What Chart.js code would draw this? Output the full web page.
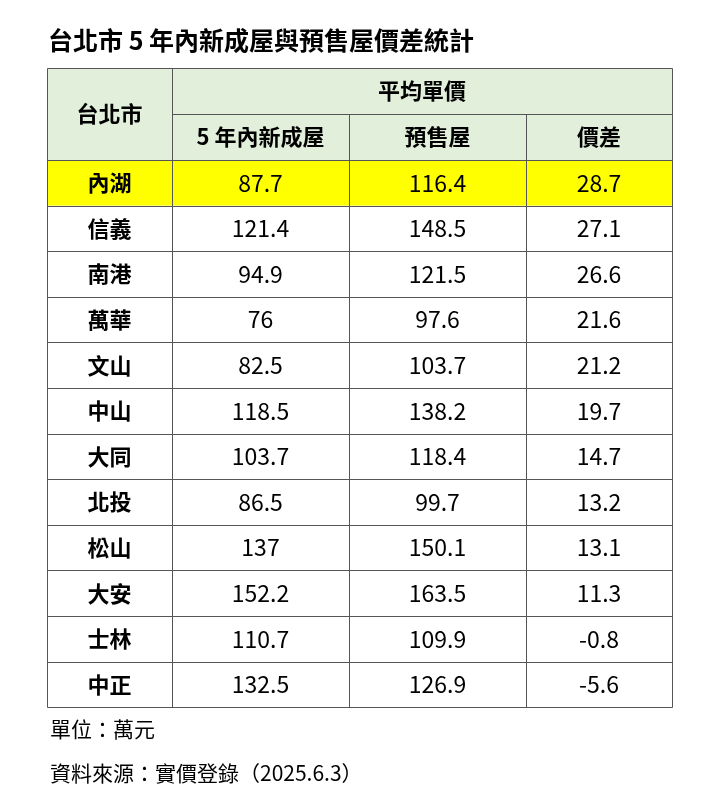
<!DOCTYPE html>
<html>
<head>
<meta charset="utf-8">
<script src="https://cdn.jsdelivr.net/npm/chart.js@4.4.1/dist/chart.umd.min.js"></script>
<style>
  body { margin: 0; background: #fff; }
</style>
</head>
<body>
<canvas id="tabela" width="722" height="800"></canvas>
<script>
//Dados
const titulo = '台北市 5 年內新成屋與預售屋價差統計'
const cabecalhoGrupo = '平均單價'
const cabecalhoCidade = '台北市'
const colunas = ['5 年內新成屋', '預售屋', '價差']
const distritos = ['內湖', '信義', '南港', '萬華', '文山', '中山', '大同', '北投', '松山', '大安', '士林', '中正']
const novos = ['87.7', '121.4', '94.9', '76', '82.5', '118.5', '103.7', '86.5', '137', '152.2', '110.7', '132.5']
const preVenda = ['116.4', '148.5', '121.5', '97.6', '103.7', '138.2', '118.4', '99.7', '150.1', '163.5', '109.9', '126.9']
const diferenca = ['28.7', '27.1', '26.6', '21.6', '21.2', '19.7', '14.7', '13.2', '13.1', '11.3', '-0.8', '-5.6']
const notas = ['單位：萬元', '資料來源：實價登錄（2025.6.3）']

//Layout (pixels na escala)
const bordasX = [47, 172, 349, 526, 672]
const topo = 68
const linhaCab = 46
const linhaDado = 45.6
const fonte = '"Noto Sans CJK TC", "Noto Sans", sans-serif'

const tabelaPlugin = {
    id: 'tabela',
    afterDraw(chart) {
        const ctx = chart.ctx
        const sx = chart.scales.x
        const sy = chart.scales.y
        const X = v => sx.getPixelForValue(v)
        const Y = v => sy.getPixelForValue(v)
        const inicioDados = topo + 2 * linhaCab
        const fim = inicioDados + distritos.length * linhaDado

        ctx.save()
        //Titulo
        ctx.fillStyle = '#000'
        ctx.font = 'bold 25px ' + fonte
        ctx.textBaseline = 'middle'
        ctx.textAlign = 'left'
        ctx.fillText(titulo, X(48), Y(40))

        //Fundo do cabecalho
        ctx.fillStyle = '#e2efda'
        ctx.fillRect(X(bordasX[0]), Y(topo), X(bordasX[4]) - X(bordasX[0]), Y(inicioDados) - Y(topo))
        //Linha destacada
        ctx.fillStyle = '#ffff00'
        ctx.fillRect(X(bordasX[0]), Y(inicioDados), X(bordasX[4]) - X(bordasX[0]), Y(inicioDados + linhaDado) - Y(inicioDados))

        //Linhas
        ctx.strokeStyle = '#555'
        ctx.lineWidth = 1
        const linha = (x1, y1, x2, y2) => {
            ctx.beginPath()
            ctx.moveTo(Math.round(X(x1)) + 0.5, Math.round(Y(y1)) + 0.5)
            ctx.lineTo(Math.round(X(x2)) + 0.5, Math.round(Y(y2)) + 0.5)
            ctx.stroke()
        }
        linha(bordasX[0], topo, bordasX[4], topo)
        linha(bordasX[1], topo + linhaCab, bordasX[4], topo + linhaCab)
        for (let i = 0; i <= distritos.length; i++) {
            const yy = inicioDados + i * linhaDado
            linha(bordasX[0], yy, bordasX[4], yy)
        }
        linha(bordasX[0], topo, bordasX[0], fim)
        linha(bordasX[1], topo, bordasX[1], fim)
        linha(bordasX[2], topo + linhaCab, bordasX[2], fim)
        linha(bordasX[3], topo + linhaCab, bordasX[3], fim)
        linha(bordasX[4], topo, bordasX[4], fim)

        //Texto cabecalho
        ctx.fillStyle = '#000'
        ctx.textAlign = 'center'
        ctx.font = 'bold 22px ' + fonte
        const centro = c => (bordasX[c] + bordasX[c + 1]) / 2
        ctx.fillText(cabecalhoCidade, X(centro(0)), Y(topo + linhaCab))
        ctx.fillText(cabecalhoGrupo, X((bordasX[1] + bordasX[4]) / 2), Y(topo + linhaCab / 2))
        colunas.forEach((c, i) => {
            ctx.fillText(c, X(centro(i + 1)), Y(topo + linhaCab * 1.5))
        })

        //Dados
        distritos.forEach((d, i) => {
            const yc = inicioDados + (i + 0.5) * linhaDado
            ctx.font = 'bold 22px ' + fonte
            ctx.fillText(d, X(centro(0)), Y(yc))
            ctx.font = '23px ' + fonte
            ctx.fillText(novos[i], X(centro(1)), Y(yc))
            ctx.fillText(preVenda[i], X(centro(2)), Y(yc))
            ctx.fillText(diferenca[i], X(centro(3)), Y(yc))
        })

        //Notas
        ctx.textAlign = 'left'
        ctx.font = '21px ' + fonte
        ctx.fillText(notas[0], X(50), Y(729))
        ctx.fillText(notas[1], X(50), Y(773))
        ctx.restore()
    }
}

new Chart(document.getElementById('tabela'), {
    type: 'scatter',
    data: { datasets: [{ data: [] }] },
    options: {
        responsive: false,
        animation: false,
        layout: { padding: 0 },
        plugins: { legend: { display: false }, tooltip: { enabled: false } },
        scales: {
            x: { type: 'linear', min: 0, max: 722, display: false },
            y: { type: 'linear', min: 0, max: 800, reverse: true, display: false }
        }
    },
    plugins: [tabelaPlugin]
})
</script>
</body>
</html>
